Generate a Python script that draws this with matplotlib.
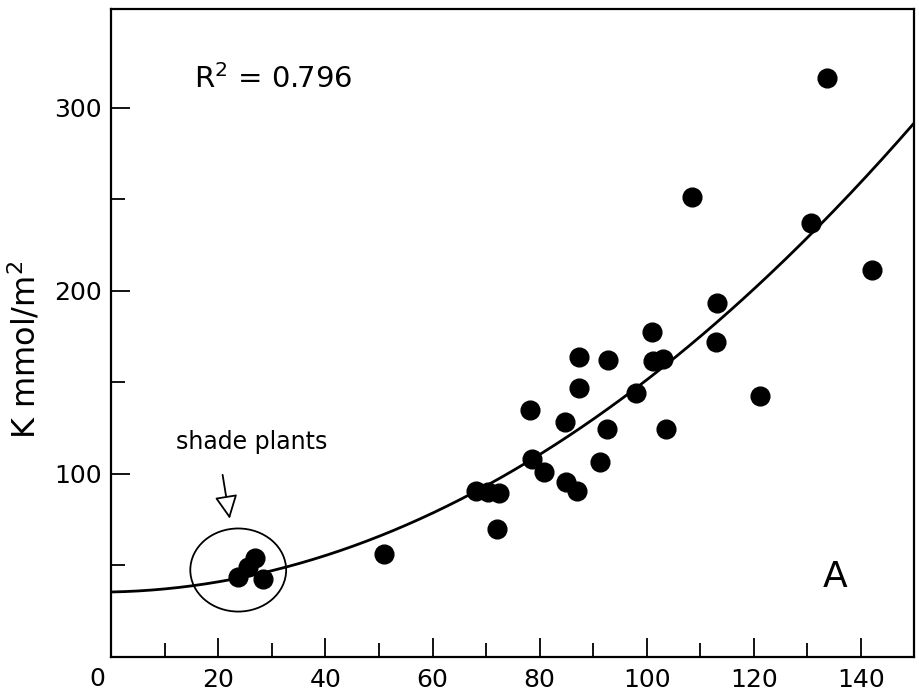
import matplotlib.pyplot as plt
from matplotlib.patches import Ellipse
from matplotlib.ticker import FixedLocator
import numpy as np

# points
x_vals = [23.6, 25.5, 26.8, 28.3, 51.0,
          68.1, 70.3, 72.4, 72.0, 78.6, 78.2, 80.9, 84.9, 86.9, 84.7,
          87.3, 87.4, 92.8, 92.6, 91.3, 98.0, 101.1, 103.1, 103.6, 121.2,
          133.6, 108.4, 130.6, 142.1, 113.1, 101.0, 112.9]
y_vals = [43.7, 49.0, 54.0, 42.6, 56.3,
          90.9, 90.3, 89.8, 70.0, 108.0, 135.0, 100.9, 95.5, 90.9, 128.6,
          147.2, 164.0, 162.3, 124.4, 106.7, 144.1, 161.7, 162.8, 124.4, 142.6,
          316.2, 251.5, 237.3, 211.5, 193.3, 177.4, 172.3]

# quadratic fit curve (coefficients)
fit_a, fit_b, fit_c = 35.5, 0.058, 0.01101

xticks = [20, 40, 60, 80, 100, 120, 140]
xminor = [10, 30, 50, 70, 90, 110, 130]
yticks = [100, 200, 300]
yminor = [50, 150, 250]

fig = plt.figure(figsize=(9.2, 6.93), dpi=100)
ax = fig.add_axes([0.121, 0.052, 0.873, 0.935])

xc = np.linspace(0, 150, 300)
ax.plot(xc, fit_a + fit_b * xc + fit_c * xc ** 2, color="black", lw=2.0, zorder=2)
ax.plot(x_vals, y_vals, "o", color="black", markersize=13.5, zorder=3)

ax.add_patch(Ellipse((23.7, 47.5), 17.9, 45.4, fill=False, ec="black", lw=1.3))
ax.annotate("", xy=(22.2, 74), xytext=(20.7, 101),
            arrowprops=dict(arrowstyle="-|>,head_length=0.45,head_width=0.22",
                            fc="white", ec="black", lw=1.3, mutation_scale=32))
ax.text(26.2, 117.5, "shade plants", fontsize=17, ha="center", va="center")
ax.text(15.5, 316, "R$^2$ = 0.796", fontsize=21, ha="left", va="center")
ax.text(135.2, 43.7, "A", fontsize=26, ha="center", va="center")

ax.set_xlim(0, 150)
ax.set_ylim(0, 354)
ax.set_xticks(xticks)
ax.set_yticks(yticks)
ax.xaxis.set_minor_locator(FixedLocator(xminor))
ax.yaxis.set_minor_locator(FixedLocator(yminor))
ax.tick_params(which="both", direction="in", width=1.3, labelsize=18)
ax.tick_params(which="major", length=14)
ax.tick_params(which="minor", length=10)
ax.tick_params(axis="x", pad=8)
ax.tick_params(axis="y", pad=7)
# the "0" sits left of the origin in the original
ax.text(-2.7, -0.015, "0", fontsize=18, ha="center", va="top",
        transform=ax.get_xaxis_transform())
for s in ax.spines.values():
    s.set_linewidth(1.6)

ax.set_ylabel("K mmol/m$^2$", fontsize=23)
ax.yaxis.set_label_coords(-0.086, 0.474)

plt.savefig("out.png", dpi=100)
